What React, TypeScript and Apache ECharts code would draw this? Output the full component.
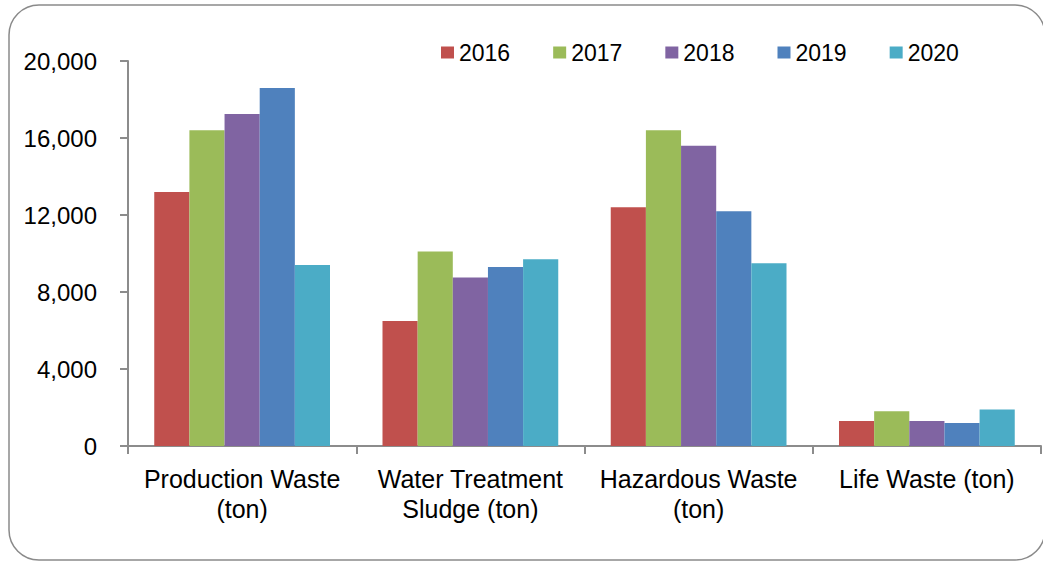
import React, { useEffect, useRef } from "react";
import * as echarts from "echarts";

const categories = [
  "Production Waste\n(ton)",
  "Water Treatment\nSludge (ton)",
  "Hazardous Waste\n(ton)",
  "Life Waste (ton)",
];
const years = ["2016", "2017", "2018", "2019", "2020"];
const v2016 = [13200, 6500, 12400, 1300];
const v2017 = [16400, 10100, 16400, 1800];
const v2018 = [17250, 8750, 15600, 1300];
const v2019 = [18600, 9300, 12200, 1200];
const v2020 = [9400, 9700, 9500, 1900];
const seriesValues = [v2016, v2017, v2018, v2019, v2020];
const colors = ["#C0504D", "#9BBB59", "#8064A2", "#4F81BD", "#4BACC6"];

const FONT = "'Liberation Sans', Arial, sans-serif";

export default function App() {
  const ref = useRef<HTMLDivElement>(null);
  useEffect(() => {
    if (!ref.current) return;
    const chart = echarts.init(ref.current, undefined, { renderer: "svg" });
    chart.setOption({
      animation: false,
      backgroundColor: "#ffffff",
      textStyle: { fontFamily: FONT },
      graphic: [
        {
          type: "rect",
          shape: { x: 9, y: 5, width: 1036, height: 555, r: 30 },
          style: { fill: "none", stroke: "#8a8a8a", lineWidth: 1.5 },
          z: -1,
        },
      ],
      legend: {
        data: years,
        left: 436,
        top: 36,
        itemWidth: 13,
        itemHeight: 12,
        itemGap: 43,
        icon: "rect",
        textStyle: { fontSize: 23, color: "#000", fontFamily: FONT },
      },
      grid: { left: 128, right: 2, top: 61, bottom: 116, containLabel: false },
      xAxis: {
        type: "category",
        data: categories,
        axisLine: { lineStyle: { color: "#8c8c8c", width: 2 } },
        axisTick: { show: true, length: 8, lineStyle: { color: "#8c8c8c", width: 2 } },
        axisLabel: {
          interval: 0,
          fontSize: 25,
          lineHeight: 30,
          margin: 18,
          color: "#000",
          fontFamily: FONT,
        },
      },
      yAxis: {
        type: "value",
        min: 0,
        max: 20000,
        interval: 4000,
        axisLine: { show: true, lineStyle: { color: "#8c8c8c", width: 2 } },
        axisTick: { show: true, length: 8, lineStyle: { color: "#8c8c8c", width: 2 } },
        splitLine: { show: false },
        axisLabel: {
          fontSize: 24,
          margin: 31,
          color: "#000",
          fontFamily: FONT,
          formatter: (v: number) => v.toLocaleString("en-US"),
        },
      },
      series: years.map((y, i) => ({
        name: y,
        type: "bar",
        data: seriesValues[i],
        barGap: "0%",
        barCategoryGap: "23%",
        itemStyle: { color: colors[i] },
      })),
    });
    return () => chart.dispose();
  }, []);
  return (
    <div
      ref={ref}
      style={{ position: "absolute", left: 0, top: 0, width: 1043, height: 562 }}
    />
  );
}
